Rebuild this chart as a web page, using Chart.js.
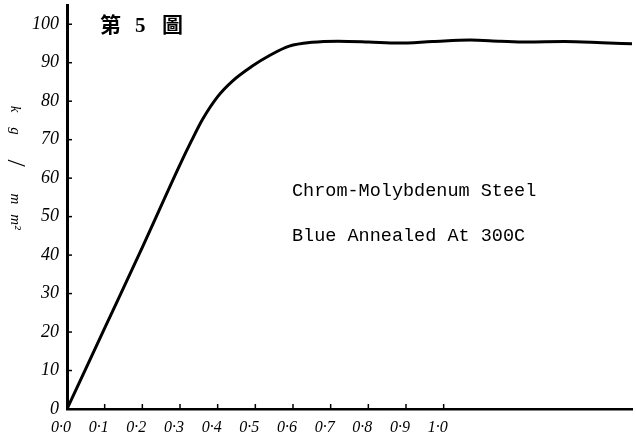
<!DOCTYPE html>
<html>
<head>
	<title>第5圖 Chrom-Molybdenum Steel</title>
	<script src="https://cdn.jsdelivr.net/npm/chart.js@4"></script>
	<style>
		html, body { margin: 0; padding: 0; background: #fff; }
		#wrap { width: 636px; height: 444px; }
	</style>
</head>
<body>
	<div id="wrap"><canvas id="curve"></canvas></div>

	<script>
		// strain vs stress (kg/mm2)
		const strain = [0, 0.10, 0.20, 0.30, 0.33, 0.36, 0.40, 0.44, 0.49, 0.54, 0.59, 0.65, 0.72, 0.80, 0.88, 0.97, 1.07, 1.15, 1.22, 1.32, 1.42, 1.50];
		const stress = [0, 21, 42, 63.5, 69.6, 75.3, 81.2, 85.3, 89, 92, 94.3, 95.3, 95.6, 95.4, 95.1, 95.5, 95.9, 95.6, 95.4, 95.5, 95.2, 94.9];

		const yTicks = [0, 10, 20, 30, 40, 50, 60, 70, 80, 90, 100];
		const xTicks = [0, 0.1, 0.2, 0.3, 0.4, 0.5, 0.6, 0.7, 0.8, 0.9, 1.0];
		const xLabels = ['0·0', '0·1', '0·2', '0·3', '0·4', '0·5', '0·6', '0·7', '0·8', '0·9', '1·0'];

		const figTitle = ['第', '5', '圖'];
		const unitParts = ['k', 'g', '/', 'm', 'm²'];
		const notes = ['Chrom-Molybdenum Steel', 'Blue Annealed At 300C'];

		const points = strain.map((s, i) => ({ x: s, y: stress[i] }));

		// inward tick marks, figure number, unit label and the typed note
		const decor = {
			id: 'decor',
			afterDraw(chart) {
				const { ctx, chartArea: a, scales: { x, y } } = chart;
				ctx.save();
				ctx.strokeStyle = '#000';
				ctx.fillStyle = '#000';
				ctx.lineWidth = 1.5;
				yTicks.forEach(v => {
					const py = y.getPixelForValue(v);
					ctx.beginPath(); ctx.moveTo(a.left, py); ctx.lineTo(a.left + 5, py); ctx.stroke();
				});
				xTicks.forEach(v => {
					const px = x.getPixelForValue(v);
					ctx.beginPath(); ctx.moveTo(px, a.bottom); ctx.lineTo(px, a.bottom - 5); ctx.stroke();
				});

				ctx.font = 'bold 21px "Noto Sans CJK TC"';
				ctx.textBaseline = 'alphabetic';
				ctx.fillText(figTitle[0], 100, 32);
				ctx.font = 'bold 21px "Liberation Serif"';
				ctx.fillText(figTitle[1], 135, 32);
				ctx.font = 'bold 21px "Noto Sans CJK TC"';
				ctx.fillText(figTitle[2], 162, 32);

				// unit, written top to bottom
				ctx.save();
				ctx.translate(15, 0);
				ctx.rotate(Math.PI / 2);
				ctx.textBaseline = 'middle';
				ctx.textAlign = 'center';
				const at = [109, 131, 163, 199, 222];
				unitParts.forEach((t, i) => {
					ctx.font = t === '/' ? '26px "Liberation Serif"' : 'italic 15px "Liberation Serif"';
					ctx.fillText(t, at[i], 0);
				});
				ctx.restore();

				ctx.font = '18.5px "Liberation Mono"';
				ctx.textAlign = 'left';
				ctx.textBaseline = 'middle';
				ctx.fillText(notes[0], 292, 191);
				ctx.fillText(notes[1], 292, 236);
				ctx.restore();
			}
		};

		new Chart(document.getElementById('curve'), {
			type: 'line',
			data: {
				datasets: [{
					data: points,
					borderColor: '#000',
					borderWidth: 3,
					pointRadius: 0,
					fill: false,
					cubicInterpolationMode: 'monotone'
				}]
			},
			options: {
				responsive: true,
				maintainAspectRatio: false,
				animation: false,
				layout: { padding: { top: 5, right: 4, left: 0, bottom: 0 } },
				plugins: { legend: { display: false }, tooltip: { enabled: false } },
				scales: {
					x: {
						type: 'linear',
						min: 0,
						max: 1.5,
						afterFit: s => { s.height = 35; s.paddingLeft = 0; s.paddingRight = 0; },
						afterBuildTicks: s => { s.ticks = xTicks.map(v => ({ value: v })); },
						grid: { display: false, drawTicks: false },
						border: { color: '#000', width: 2.5 },
						ticks: {
							padding: 9,
							labelOffset: -6,
							color: '#000',
							maxRotation: 0,
							autoSkip: false,
							font: { family: 'Liberation Serif', style: 'italic', size: 16 },
							callback: (v, i) => xLabels[i]
						}
					},
					y: {
						min: 0,
						max: 105,
						afterFit: s => { s.width = 67; s.paddingTop = 0; s.paddingBottom = 0; },
						afterBuildTicks: s => { s.ticks = yTicks.map(v => ({ value: v })); },
						grid: { display: false, drawTicks: false },
						border: { color: '#000', width: 3 },
						ticks: {
							padding: 8,
							color: '#000',
							font: { family: 'Liberation Serif', style: 'italic', size: 18 },
							callback: v => String(v)
						}
					}
				}
			},
			plugins: [decor]
		});
	</script>
</body>
</html>
